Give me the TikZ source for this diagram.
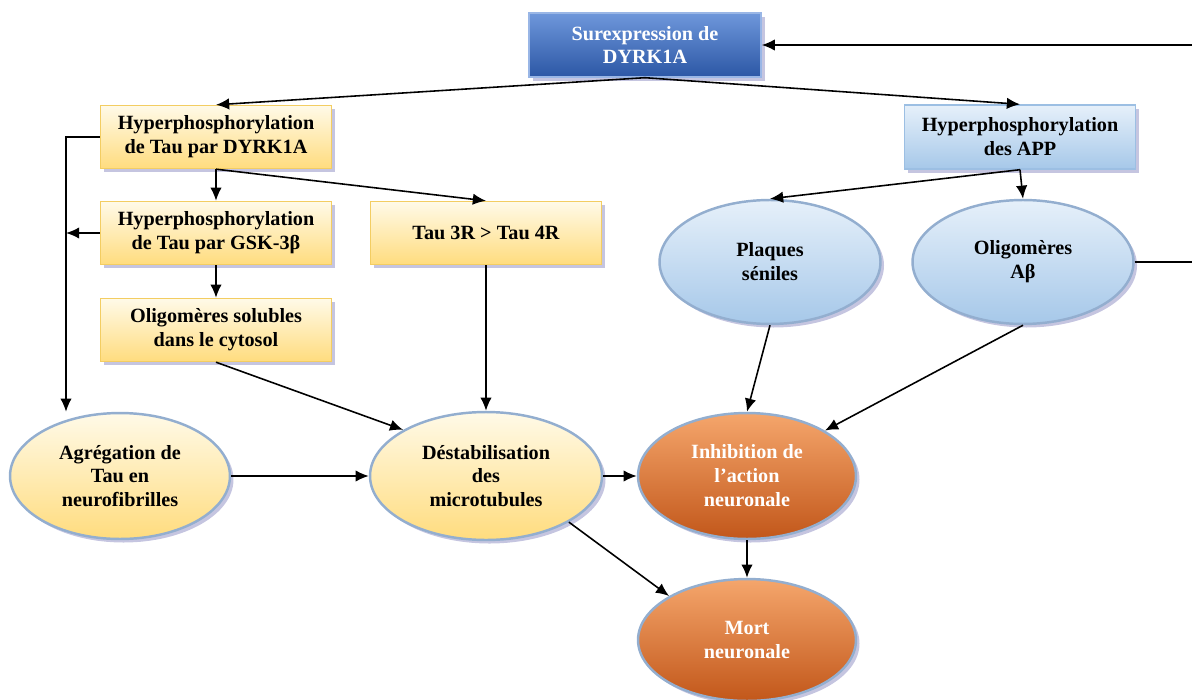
\documentclass[tikz,border=0pt]{standalone}
\usepackage{fontspec}
\setmainfont{Liberation Serif}
\usetikzlibrary{arrows.meta,shapes.geometric,shadows}

\definecolor{surtop}{HTML}{6E97DB}
\definecolor{surbot}{HTML}{2C57A5}
\definecolor{yeltop}{HTML}{FFFAE8}
\definecolor{yelbot}{HTML}{FFDC7E}
\definecolor{yeledge}{HTML}{F3CD62}
\definecolor{blutop}{HTML}{E6F0FA}
\definecolor{blubot}{HTML}{A6C8E9}
\definecolor{bluedge}{HTML}{9CBFE3}
\definecolor{orgtop}{HTML}{F5A66C}
\definecolor{orgbot}{HTML}{C2571A}
\definecolor{elledge}{HTML}{93AECF}

\tikzset{
    txt/.style={font=\bfseries\fontsize{11.5}{13.6}\selectfont, align=center, inner sep=0pt},
    shade/.style={drop shadow={shadow xshift=2pt, shadow yshift=-2pt, fill=gray!70!blue, opacity=.35}},
    topbox/.style={txt, text=white, draw=surtop!70!white, line width=0.8pt, top color=surtop, bottom color=surbot,
        minimum width=4.64cm, minimum height=1.28cm, shade},
    yellowbox/.style={txt, draw=yeledge, line width=0.8pt, top color=yeltop, bottom color=yelbot,
        minimum width=4.62cm, minimum height=1.26cm, shade},
    bluebox/.style={txt, draw=bluedge, line width=0.8pt, top color=blutop, bottom color=blubot,
        minimum width=4.62cm, minimum height=1.28cm, shade},
    yellowell/.style={txt, ellipse, draw=elledge, line width=1.4pt, top color=yeltop, bottom color=yelbot, shade},
    blueell/.style={txt, ellipse, draw=elledge, line width=1.4pt, top color=blutop, bottom color=blubot, shade},
    orangeell/.style={txt, ellipse, text=white, draw=elledge, line width=1.4pt, top color=orgtop, bottom color=orgbot, shade},
    arr/.style={-{Latex[length=7.5pt,width=6.5pt]}, line width=0.9pt}
}

\begin{document}
\begin{tikzpicture}[x=0.02cm, y=-0.02cm]
        \useasboundingbox (0,0) rectangle (1192,699);

        % place nodes
        \node[topbox] at (645, 45)      (sur) {Surexpression de\\DYRK1A};

        \node[yellowbox] at (216, 137)  (tau1) {Hyperphosphorylation\\de Tau par DYRK1A};
        \node[yellowbox] at (216, 233)  (gsk) {Hyperphosphorylation\\de Tau par GSK-3β};
        \node[yellowbox] at (216, 330)  (olig) {Oligomères solubles\\dans le cytosol};
        \node[yellowbox] at (486, 233)  (t3r) {Tau 3R > Tau 4R};

        \node[bluebox] at (1020, 137)   (app) {Hyperphosphorylation\\des APP};
        \node[blueell, minimum width=4.42cm, minimum height=2.48cm] at (770, 262)  (pla) {Plaques\\séniles};
        \node[blueell, minimum width=4.42cm, minimum height=2.48cm] at (1023, 262) (abeta) {Oligomères\\Aβ};

        \node[yellowell, minimum width=4.4cm, minimum height=2.52cm] at (120, 476)  (agg) {Agrégation de\\Tau en\\neurofibrilles};
        \node[yellowell, minimum width=4.64cm, minimum height=2.56cm] at (486, 476) (dest) {Déstabilisation\\des\\microtubules};

        \node[orangeell, minimum width=4.36cm, minimum height=2.52cm] at (747, 476) (inh) {Inhibition de\\l’action\\neuronale};
        \node[orangeell, minimum width=4.36cm, minimum height=2.44cm] at (747, 640) (mort) {Mort\\neuronale};

        \coordinate (lft) at (66, 137);
        \coordinate (rgt) at (1200, 262);

        % draw edges
        \draw[arr] (sur.south) -- (tau1.north);
        \draw[arr] (sur.south) -- (app.north);
        \draw[arr] (tau1.south) -- (gsk.north);
        \draw[arr] (tau1.south) -- (t3r.north);
        \draw[arr] (gsk.south) -- (olig.north);
        \draw[arr] (tau1.west) -- (lft) -- (lft |- agg.north);
        \draw[arr] (gsk.west) -- (lft |- gsk.west);
        \draw[arr] (olig.south) -- (dest.north west);
        \draw[arr] (t3r.south) -- (dest.north);
        \draw[arr] (agg.east) -- (dest.west);
        \draw[arr] (dest.east) -- (inh.west);
        \draw[arr] (dest.south east) -- (mort.north west);
        \draw[arr] (inh.south) -- (mort.north);
        \draw[arr] (app.south) -- (pla.north);
        \draw[arr] (app.south) -- (abeta.north);
        \draw[arr] (pla.south) -- (inh.north);
        \draw[arr] (abeta.south) -- (inh.north east);
        \draw[arr] (abeta.east) -- (abeta.east -| rgt) |- (sur.east);
    \end{tikzpicture}
\end{document}
